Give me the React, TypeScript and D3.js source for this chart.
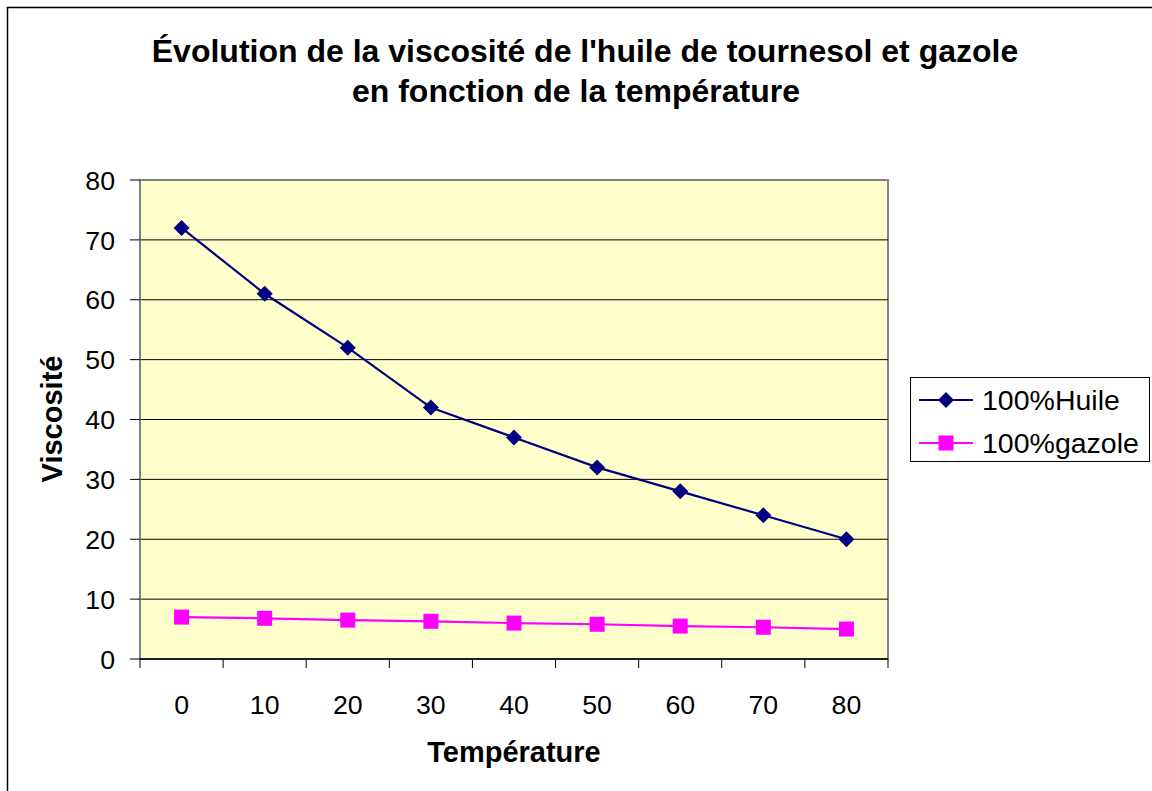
import * as d3 from "d3";

const temperatures = ["0", "10", "20", "30", "40", "50", "60", "70", "80"];
const huile = [72, 61, 52, 42, 37, 32, 28, 24, 20];
const gazole = [7, 6.8, 6.5, 6.3, 6, 5.8, 5.5, 5.3, 5];
const yTickValues = [0, 10, 20, 30, 40, 50, 60, 70, 80];

const seriesList = [
  { name: "100%Huile", values: huile, color: "#000080", marker: "diamond" },
  { name: "100%gazole", values: gazole, color: "#FF00FF", marker: "square" },
];

export default function App() {
  const width = 1152;
  const height = 791;
  const marginLeft = 140;
  const marginRight = 264;
  const marginTop = 180;
  const marginBottom = 132;

  const innerWidth = width - marginLeft - marginRight;
  const innerHeight = height - marginTop - marginBottom;

  const xScale = d3
    .scaleBand()
    .domain(temperatures)
    .range([0, innerWidth]);

  const yScale = d3.scaleLinear().domain([0, 80]).range([innerHeight, 0]);

  const line = d3
    .line<number>()
    .x((_, i) => xScale(temperatures[i])! + xScale.bandwidth() / 2)
    .y((d) => yScale(d));

  const font = "'Liberation Sans', Arial, sans-serif";
  const tickSize = 26.7;

  const marker = (type: string, cx: number, cy: number, color: string, key: any) =>
    type === "diamond" ? (
      <path
        key={key}
        d={`M${cx},${cy - 8}L${cx + 8},${cy}L${cx},${cy + 8}L${cx - 8},${cy}Z`}
        fill={color}
      />
    ) : (
      <rect key={key} x={cx - 7.5} y={cy - 7.5} width={15} height={15} fill={color} />
    );

  // tick boundaries between categories
  const xBounds = d3.range(temperatures.length + 1).map((i) => i * xScale.step());

  return (
    <svg
      width={width}
      height={height}
      style={{ position: "absolute", left: 0, top: 0, background: "white" }}
      fontFamily={font}
    >
      {/* outer frame */}
      <rect x={7.5} y={7.5} width={width + 20} height={height + 20} fill="white" stroke="black" strokeWidth={1.5} />

      {/* title */}
      <text x={585} y={62} textAnchor="middle" fontSize={32} fontWeight="bold">
        Évolution de la viscosité de l'huile de tournesol et gazole
      </text>
      <text x={576} y={102} textAnchor="middle" fontSize={32} fontWeight="bold">
        en fonction de la température
      </text>

      <g transform={`translate(${marginLeft}, ${marginTop})`}>
        {/* plot area */}
        <rect x={0} y={0} width={innerWidth} height={innerHeight} fill="#FFFFCC" stroke="#808080" strokeWidth={2} />

        {/* gridlines */}
        {yTickValues.slice(1, -1).map((t) => (
          <line key={t} x1={0} x2={innerWidth} y1={yScale(t)} y2={yScale(t)} stroke="black" strokeWidth={1} />
        ))}

        {/* Y axis */}
        <line x1={0} x2={0} y1={0} y2={innerHeight} stroke="#808080" strokeWidth={2} />
        {yTickValues.map((t) => (
          <g key={t} transform={`translate(0, ${yScale(t)})`}>
            <line x1={-10} x2={0} stroke="black" />
            <text x={-25} dy="0.36em" textAnchor="end" fontSize={tickSize}>
              {t}
            </text>
          </g>
        ))}

        {/* X axis */}
        <line x1={0} x2={innerWidth} y1={innerHeight} y2={innerHeight} stroke="black" strokeWidth={1.5} />
        {xBounds.map((b, i) => (
          <line key={i} x1={b} x2={b} y1={innerHeight} y2={innerHeight + 9} stroke="black" />
        ))}
        {temperatures.map((t) => (
          <text
            key={t}
            x={xScale(t)! + xScale.bandwidth() / 2}
            y={innerHeight + 55}
            textAnchor="middle"
            fontSize={tickSize}
          >
            {t}
          </text>
        ))}

        {/* series */}
        {seriesList.map((s) => (
          <g key={s.name}>
            <path d={line(s.values)!} fill="none" stroke={s.color} strokeWidth={2.2} />
            {s.values.map((v, i) =>
              marker(s.marker, xScale(temperatures[i])! + xScale.bandwidth() / 2, yScale(v), s.color, i)
            )}
          </g>
        ))}
      </g>

      {/* axis titles */}
      <text x={514} y={762} textAnchor="middle" fontSize={29} fontWeight="bold">
        Température
      </text>
      <text
        transform="translate(62, 419) rotate(-90)"
        textAnchor="middle"
        fontSize={29}
        fontWeight="bold"
      >
        Viscosité
      </text>

      {/* legend */}
      <g transform="translate(910, 377)">
        <rect x={0.5} y={0.5} width={239} height={84} fill="white" stroke="black" strokeWidth={1} />
        {seriesList.map((s, i) => (
          <g key={s.name} transform={`translate(0, ${23 + i * 43})`}>
            <line x1={9} x2={63} y1={0} y2={0} stroke={s.color} strokeWidth={2.2} />
            {marker(s.marker, 36, 0, s.color, "m")}
            <text x={72} dy="0.36em" fontSize={28.5}>
              {s.name}
            </text>
          </g>
        ))}
      </g>
    </svg>
  );
}
